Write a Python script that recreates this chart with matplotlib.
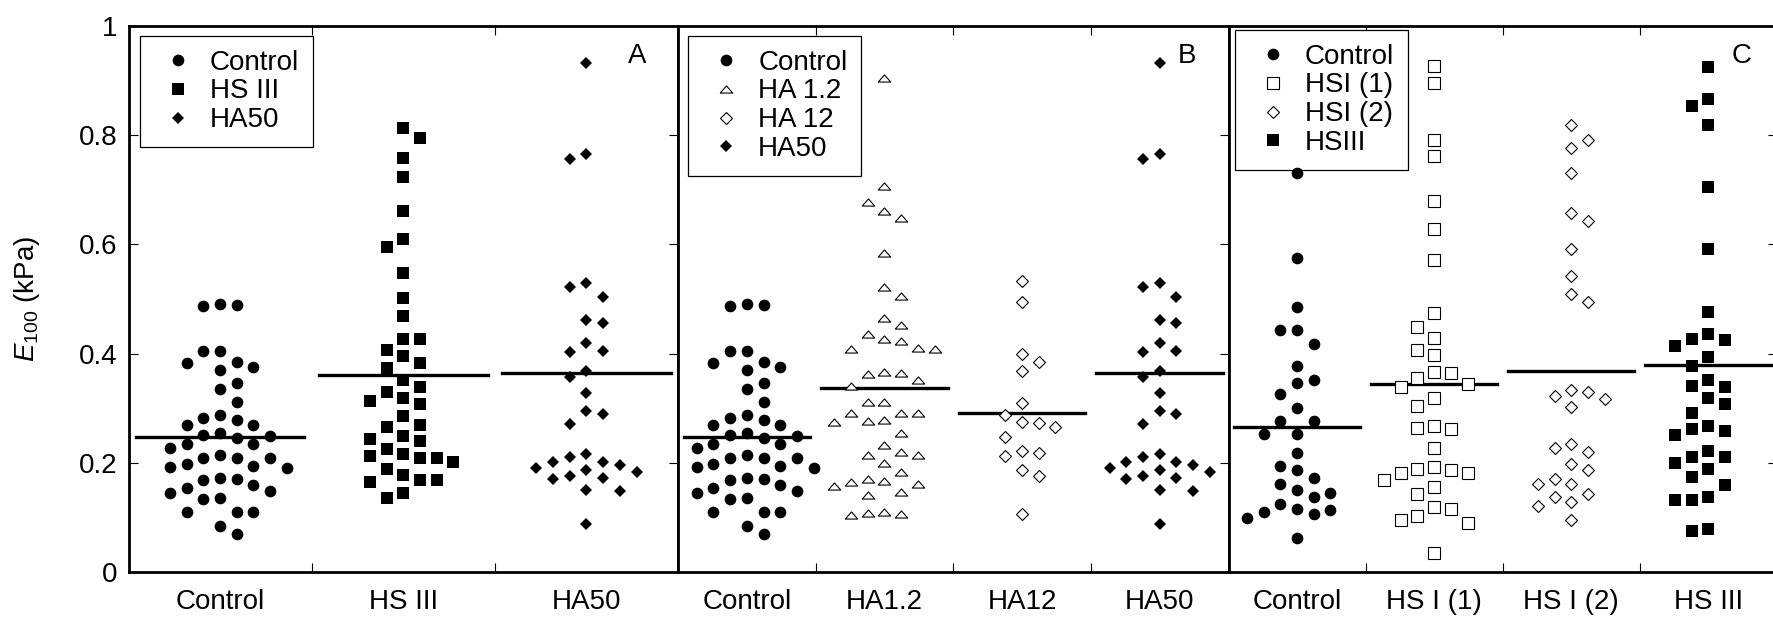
import matplotlib
matplotlib.use("Agg")
import matplotlib.pyplot as plt
import numpy as np
from matplotlib.lines import Line2D
from matplotlib.path import Path

plt.rcParams['font.family'] = ['Liberation Sans', 'DejaVu Sans']
plt.rcParams['mathtext.fontset'] = 'custom'
plt.rcParams['mathtext.rm'] = 'Liberation Sans'
plt.rcParams['mathtext.it'] = 'Liberation Sans:italic'

# values (E100, kPa)
control_ab = [0.491, 0.488, 0.489, 0.404, 0.404, 0.385, 0.370, 0.376, 0.382, 0.336,
              0.346, 0.311, 0.282, 0.279, 0.287, 0.269, 0.270, 0.250, 0.245, 0.251,
              0.254, 0.227, 0.234, 0.234, 0.208, 0.208, 0.208, 0.214, 0.195, 0.193,
              0.197, 0.190, 0.173, 0.168, 0.170, 0.153, 0.160, 0.148, 0.136, 0.134,
              0.144, 0.110, 0.110, 0.110, 0.084, 0.069]
hs3_a = [0.814, 0.795, 0.758, 0.724, 0.662, 0.610, 0.596, 0.547, 0.502, 0.468,
         0.426, 0.427, 0.406, 0.395, 0.383, 0.374, 0.351, 0.339, 0.319, 0.329,
         0.307, 0.314, 0.285, 0.265, 0.270, 0.249, 0.240, 0.244, 0.226, 0.202,
         0.212, 0.208, 0.217, 0.208, 0.188, 0.177, 0.168, 0.164, 0.168, 0.145, 0.135]
ha50 = [0.932, 0.765, 0.757, 0.530, 0.522, 0.503, 0.456, 0.461, 0.403, 0.419,
        0.405, 0.369, 0.357, 0.328, 0.294, 0.289, 0.271, 0.217, 0.202, 0.196,
        0.190, 0.202, 0.211, 0.184, 0.172, 0.151, 0.149, 0.170, 0.176, 0.186, 0.088]
ha1_2 = [0.904, 0.707, 0.677, 0.661, 0.648, 0.584, 0.522, 0.506, 0.465, 0.453,
         0.427, 0.436, 0.423, 0.410, 0.408, 0.408, 0.366, 0.363, 0.365, 0.352,
         0.341, 0.311, 0.311, 0.291, 0.291, 0.292, 0.278, 0.275, 0.276, 0.255,
         0.233, 0.220, 0.214, 0.214, 0.200, 0.183, 0.171, 0.167, 0.157, 0.162,
         0.165, 0.147, 0.141, 0.110, 0.107, 0.104, 0.108]
ha12 = [0.533, 0.494, 0.400, 0.384, 0.369, 0.310, 0.287, 0.272, 0.266, 0.275,
        0.247, 0.222, 0.218, 0.212, 0.186, 0.176, 0.107]
control_c = [0.731, 0.576, 0.486, 0.443, 0.443, 0.418, 0.378, 0.346, 0.351, 0.326,
             0.301, 0.276, 0.277, 0.252, 0.252, 0.218, 0.195, 0.186, 0.173, 0.161,
             0.151, 0.144, 0.125, 0.137, 0.113, 0.099, 0.107, 0.110, 0.115, 0.063]
hs1_1 = [0.927, 0.895, 0.792, 0.762, 0.679, 0.629, 0.571, 0.474, 0.449, 0.429,
         0.407, 0.397, 0.367, 0.364, 0.355, 0.344, 0.339, 0.318, 0.304, 0.261,
         0.267, 0.264, 0.227, 0.187, 0.182, 0.182, 0.189, 0.193, 0.169, 0.156,
         0.143, 0.115, 0.119, 0.103, 0.096, 0.090, 0.035]
hs1_2 = [0.818, 0.791, 0.776, 0.730, 0.657, 0.643, 0.591, 0.542, 0.509, 0.494,
         0.333, 0.322, 0.329, 0.316, 0.303, 0.234, 0.227, 0.220, 0.198, 0.186,
         0.171, 0.161, 0.161, 0.142, 0.138, 0.128, 0.121, 0.095]
hs3_c = [0.924, 0.867, 0.854, 0.819, 0.705, 0.591, 0.476, 0.436, 0.427, 0.425,
         0.414, 0.393, 0.378, 0.351, 0.341, 0.339, 0.318, 0.308, 0.292, 0.267,
         0.251, 0.261, 0.259, 0.222, 0.210, 0.210, 0.200, 0.189, 0.174, 0.160,
         0.137, 0.131, 0.132, 0.079, 0.076]

# horizontal bars drawn in each group
means_a = [0.247, 0.361, 0.365]
means_b = [0.247, 0.337, 0.292, 0.365]
means_c = [0.265, 0.344, 0.369, 0.380]

ticks_a = ["Control", "HS III", "HA50"]
ticks_b = ["Control", "HA1.2", "HA12", "HA50"]
ticks_c = ["Control", "HS I (1)", "HS I (2)", "HS III"]
legend_a = ["Control", "HS III", "HA50"]
legend_b = ["Control", "HA 1.2", "HA 12", "HA50"]
legend_c = ["Control", "HSI (1)", "HSI (2)", "HSIII"]

FIG_W, FIG_H = 1773, 618
COL_PX = 16.7
FS = 20

flat_tri = Path([(-1, -0.57), (1, -0.57), (0, 0.57), (0, 0)],
                [Path.MOVETO, Path.LINETO, Path.LINETO, Path.CLOSEPOLY])

STYLES = {
    "circle": dict(marker="o", ms=8.4, mfc="black", mec="black", mew=0),
    "fsquare": dict(marker="s", ms=9.2, mfc="black", mec="black", mew=0),
    "fdiamond": dict(marker="D", ms=6.1, mfc="black", mec="black", mew=0),
    "otri": dict(marker=flat_tri, ms=9.0, mfc="white", mec="black", mew=0.8),
    "odiamond": dict(marker="D", ms=6.0, mfc="white", mec="black", mew=0.8),
    "osquare": dict(marker="s", ms=8.2, mfc="white", mec="black", mew=0.8),
}


def swarm(values, thr=0.03):
    values = np.asarray(values)
    last = {}
    offs = np.zeros(len(values))
    for j, i in enumerate(np.argsort(values)[::-1]):
        sign = -1 if j % 2 == 0 else 1
        cands = [0]
        for k in range(1, 10):
            cands += [sign * k, -sign * k]
        for k in cands:
            if k not in last or abs(last[k] - values[i]) >= thr:
                break
        last[k] = values[i]
        offs[i] = k
    return offs


def make_axes(fig, left, right, top=26, bottom=572):
    return fig.add_axes([left / FIG_W, (FIG_H - bottom) / FIG_H,
                         (right - left) / FIG_W, (bottom - top) / FIG_H])


def draw_panel(ax, width_px, groups, styles, means, ticks, labels, letter, legend_xy, letter_x, first=False):
    n = len(groups)
    col = COL_PX / (width_px / n)
    for i, (vals, sty, m) in enumerate(zip(groups, styles, means)):
        ax.plot([i - 0.46, i + 0.46], [m, m], color="black", lw=2.4, zorder=2)
        x = i + swarm(vals) * col
        ax.plot(x, vals, ls="none", zorder=6, **STYLES[sty])

    ax.set_xlim(-0.5, n - 0.5)
    ax.set_ylim(0, 1)
    ax.set_xticks(range(n))
    ax.set_xticklabels(ticks)
    ax.set_xticks(np.arange(0.5, n - 0.5, 1), minor=True)
    ax.tick_params(axis="x", which="major", length=0, pad=12, labelsize=FS)
    ax.tick_params(axis="x", which="minor", direction="in", length=6.5, width=0.8,
                   top=True, bottom=True)
    ax.set_yticks([0, 0.2, 0.4, 0.6, 0.8, 1])
    ax.set_yticklabels(["0", "0.2", "0.4", "0.6", "0.8", "1"])
    ax.tick_params(axis="y", direction="in", length=6.5, width=0.8, pad=8,
                   labelsize=FS, left=first, right=True, labelleft=first)
    for sp in ax.spines.values():
        sp.set_linewidth(2.0)

    handles = [Line2D([], [], ls="none", **STYLES[s]) for s in styles]
    leg = ax.legend(handles, labels, loc="upper left", bbox_to_anchor=legend_xy,
                    borderaxespad=0, fontsize=FS, fancybox=False, framealpha=1,
                    edgecolor="black", borderpad=0.5, labelspacing=0.1,
                    handlelength=1.73, handletextpad=0.28)
    leg.get_frame().set_linewidth(0.9)
    leg.set_zorder(5)
    ax.text(letter_x, 0.945, letter, transform=ax.transAxes, ha="center", va="center", fontsize=FS)


fig = plt.figure(figsize=(FIG_W / 100, FIG_H / 100), dpi=100)

ax_a = make_axes(fig, 128.5, 678)
draw_panel(ax_a, 549.5, [control_ab, hs3_a, ha50], ["circle", "fsquare", "fdiamond"],
           means_a, ticks_a, legend_a, "A", (0.021, 0.982), 0.925, first=True)
ax_a.set_ylabel(r"$\mathit{E}_{100}$ (kPa)", fontsize=FS)
ax_a.yaxis.set_label_coords(-0.158, 0.5)

ax_b = make_axes(fig, 678, 1228.5)
draw_panel(ax_b, 550.5, [control_ab, ha1_2, ha12, ha50], ["circle", "otri", "odiamond", "fdiamond"],
           means_b, ticks_b, legend_b, "B", (0.019, 0.982), 0.925)

ax_c = make_axes(fig, 1228.5, 1777)
draw_panel(ax_c, 548.5, [control_c, hs1_1, hs1_2, hs3_c], ["circle", "osquare", "odiamond", "fsquare"],
           means_c, ticks_c, legend_c, "C", (0.012, 0.993), 0.936)

fig.savefig("out.png", dpi=100)
